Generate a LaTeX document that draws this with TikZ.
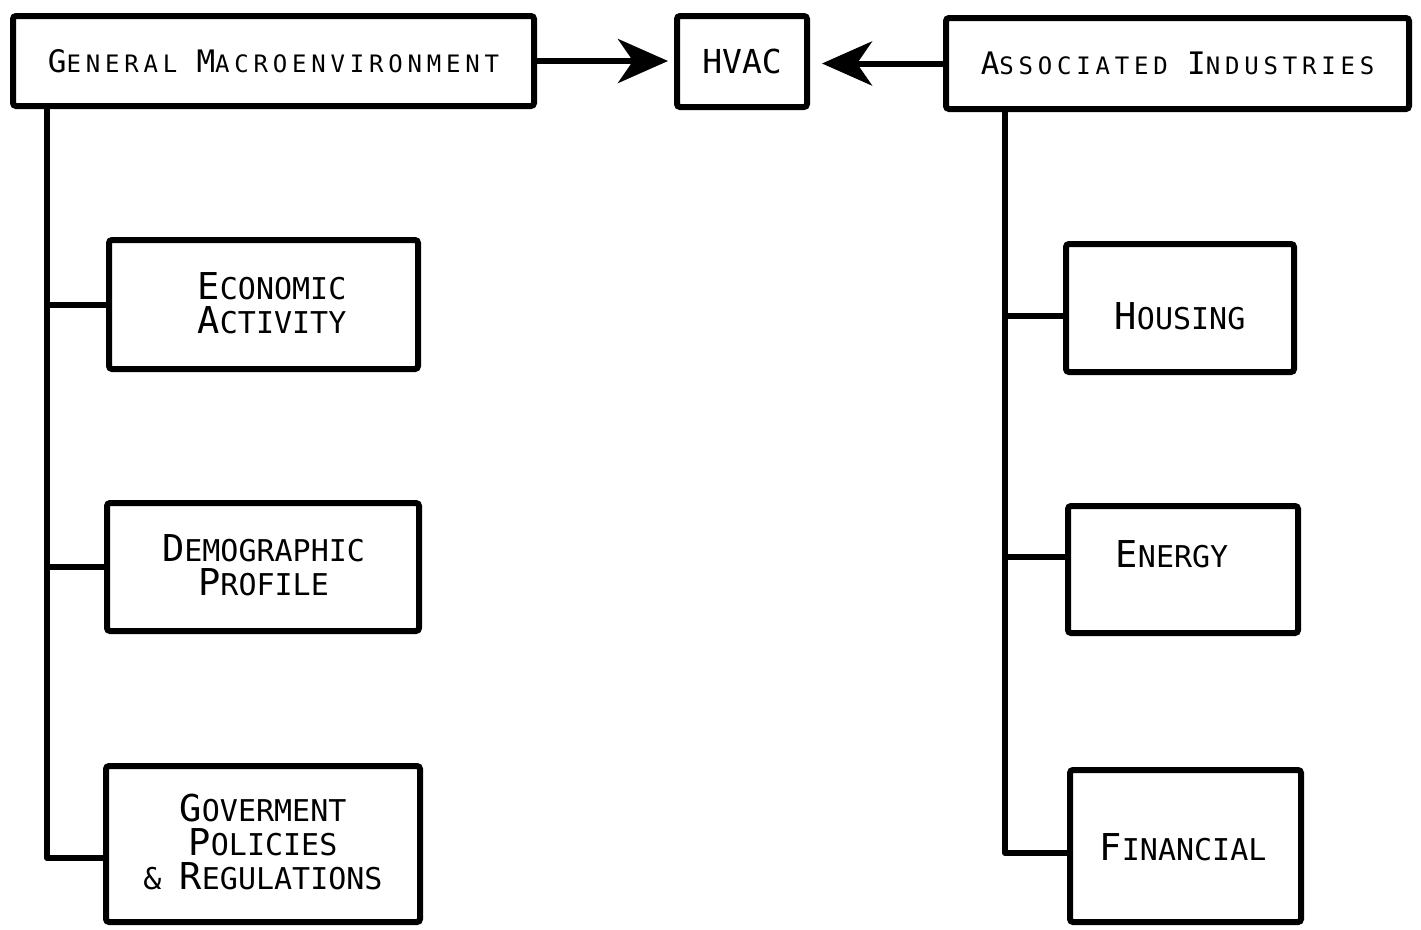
\documentclass[tikz,border=0pt]{standalone}
\usepackage{fontspec}
\usetikzlibrary{arrows.meta,calc}
\newfontfamily\topfont[LetterSpace=20]{DejaVu Sans Mono}
\newfontfamily\boxfont{DejaVu Sans Mono}
\newcommand\TB[1]{{\fontsize{31pt}{31pt}\selectfont #1}}
\newcommand\BB[1]{\smash{\fontsize{37pt}{34pt}\selectfont #1}}
\tikzset{
  box/.style={draw, line width=6pt, rounded corners=3pt, inner sep=0pt, fill=white},
  toptext/.style={font=\topfont\fontsize{24pt}{24pt}\selectfont},
  boxtext/.style={font=\boxfont\fontsize{30pt}{34pt}\selectfont, align=center, inner sep=0pt},
  conn/.style={line width=6pt, line join=round},
  arr/.style={conn, -{Stealth[length=50pt, width=44pt, inset=15pt]}},
}
\begin{document}
\begin{tikzpicture}[x=1pt, y=-1pt]
\useasboundingbox (0,0) rectangle (1421,929);
% top row
\node[box, toptext, minimum width=521pt, minimum height=90pt] (gm) at (273.5,61) {\TB{G}ENERAL \TB{M}ACROENVIRONMENT};
\node[box, font=\boxfont\fontsize{33pt}{33pt}\selectfont, minimum width=130pt, minimum height=91pt] (hvac) at (742,61.5) {HVAC};
\node[box, toptext, minimum width=463pt, minimum height=91pt] (ai) at (1177.5,63.5) {\TB{A}SSOCIATED \TB{I}NDUSTRIES};
% arrows
\draw[arr, shorten >=6pt] (gm.east) -- (gm.east -| hvac.west);
\draw[arr, shorten >=12pt] (ai.west) -- (ai.west -| hvac.east);
% left column boxes
\node[box, minimum width=309pt, minimum height=129pt] (ea) at (263.5,304.5) {};
\node[boxtext] (ea-t) at (272,306) {\BB{E}CONOMIC\\\BB{A}CTIVITY};
\node[box, minimum width=312pt, minimum height=128pt] (dp) at (263,567) {};
\node[boxtext] (dp-t) at (263.5,568) {\BB{D}EMOGRAPHIC\\\BB{P}ROFILE};
\node[box, minimum width=314pt, minimum height=156pt] (gp) at (263,844) {};
\node[boxtext] (gp-t) at (263,845) {\BB{G}OVERMENT\\ \BB{P}OLICIES\\\& \BB{R}EGULATIONS};
% right column boxes
\node[box, minimum width=228pt, minimum height=128pt] (hs) at (1180,308) {};
\node[boxtext] (hs-t) at (1180,319) {\BB{H}OUSING};
\node[box, minimum width=230pt, minimum height=127pt] (en) at (1183,569.5) {};
\node[boxtext] (en-t) at (1172,557) {\BB{E}NERGY};
\node[box, minimum width=231pt, minimum height=152pt] (fi) at (1185.5,846) {};
\node[boxtext] (fi-t) at (1183,850) {\BB{F}INANCIAL};
% left trunk
\coordinate (lt) at (47,105);
\draw[conn] (lt) |- ($(gp.west)+(0,14)$);
\draw[conn] (lt |- ea.west) -- (ea.west);
\draw[conn] (lt |- dp.west) -- (dp.west);
% right trunk
\coordinate (rt) at (1005,109);
\draw[conn] (rt) |- ($(fi.west)+(0,7)$);
\draw[conn] ($(rt |- hs.west)+(0,8)$) -- ($(hs.west)+(0,8)$);
\draw[conn] ($(rt |- en.west)+(0,-12.5)$) -- ($(en.west)+(0,-12.5)$);
\end{tikzpicture}
\end{document}
